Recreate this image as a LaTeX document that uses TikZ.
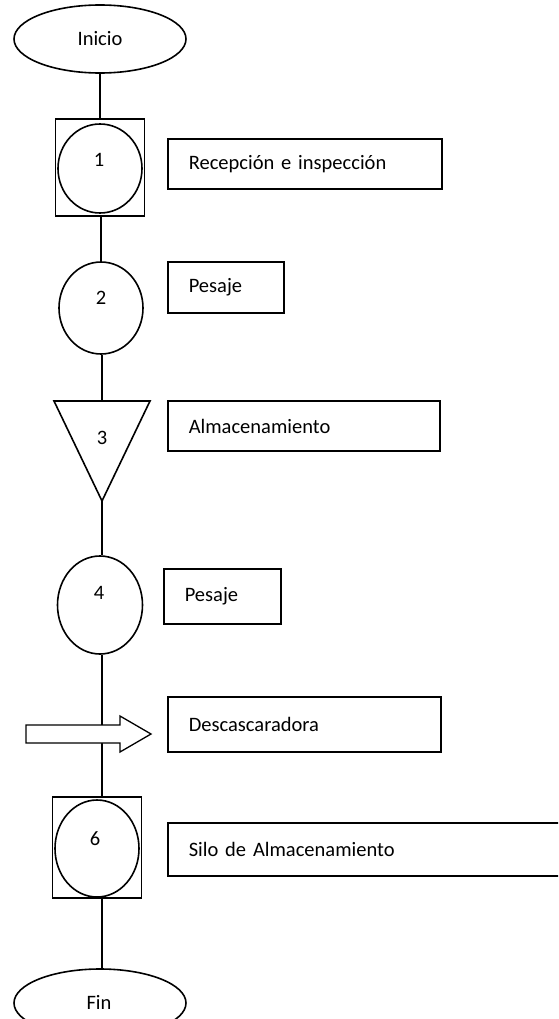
\documentclass[tikz,border=0pt]{standalone}
\usepackage{fontspec}
\setmainfont{Carlito}
\usetikzlibrary{shapes.geometric}
\begin{document}
\begin{tikzpicture}[x=1pt,y=-1pt,line width=1.6pt,
  every node/.style={font=\fontsize{20.5}{24}\selectfont},
  term/.style={draw,ellipse,inner sep=0pt,minimum width=172pt,minimum height=68pt},
  opcirc/.style={draw,ellipse,inner sep=0pt},
  sqbox/.style={draw,rectangle,inner sep=0pt},
  desc/.style={draw,rectangle,inner ysep=0pt,inner xsep=21pt,align=left,anchor=west},
  num/.style={inner sep=0pt}
]
\useasboundingbox (0,0) rectangle (558,1019);
\clip (0,0) rectangle (558,1019);

% terminals
\node[term] (inicio) at (100,39) {Inicio};
\node[term] (fin) at (100,1003) {};
\node[num] (finlbl) at (99,1002) {Fin};

% step 1
\node[sqbox,minimum width=89pt,minimum height=97pt] (sq1) at (100,167.5) {};
\node[opcirc,minimum width=84pt,minimum height=89pt] (c1) at (100,168.5) {};
\node[num] (n1) at (99,160) {1};

% step 2
\node[opcirc,minimum width=84pt,minimum height=92pt] (c2) at (101,308) {};
\node[num] (n2) at (101,298) {2};

% step 3 (triangle)
\coordinate (tritop) at (102,401);
\coordinate (tribot) at (102,501);
\draw (54,401) -- (150,401) -- (tribot) -- cycle;
\node[num] (n3) at (102,438) {3};

% step 4
\node[opcirc,minimum width=85pt,minimum height=98pt] (c4) at (100,605) {};
\node[num] (n4) at (99,593) {4};

% step 6
\node[sqbox,minimum width=89pt,minimum height=101pt] (sq6) at (97,847.5) {};
\node[opcirc,minimum width=84pt,minimum height=97pt] (c6) at (97,848.5) {};
\node[num] (n6) at (95,839) {6};

% connectors
\draw (inicio) -- (sq1);
\draw (sq1.south -| c2.north) -- (c2.north);
\draw (c2.south -| tritop) -- (tritop);
\draw (tribot) -- (tribot |- c4.north);
\draw (c4.south -| tribot) -- (sq6.north -| tribot);
\draw (sq6.south -| tribot) -- (fin.north -| tribot);

% arrow (drawn over line)
\draw[fill=white,line width=1.3pt] (26,725) -- (120,725) -- (120,716) -- (151,734)
  -- (120,752) -- (120,743) -- (26,743) -- cycle;
\coordinate (arrowtip) at (151,734);

% descriptions
\node[desc,text width=232pt,minimum height=50pt] (d1) at (167,164) {Recepción e inspección};
\node[desc,text width=74pt,minimum height=51pt] (d2) at (167,287.5) {Pesaje};
\node[desc,text width=230pt,minimum height=50pt] (d3) at (167,426) {Almacenamiento};
\node[desc,text width=75pt,minimum height=55pt] (d4) at (163,596.5) {Pesaje};
\node[desc,text width=231pt,minimum height=55pt] (d5) at (167,724.5) {Descascaradora};
\node[desc,text width=380pt,minimum height=53pt] (d6) at (167,849.5) {Silo de Almacenamiento};
\end{tikzpicture}
\end{document}
